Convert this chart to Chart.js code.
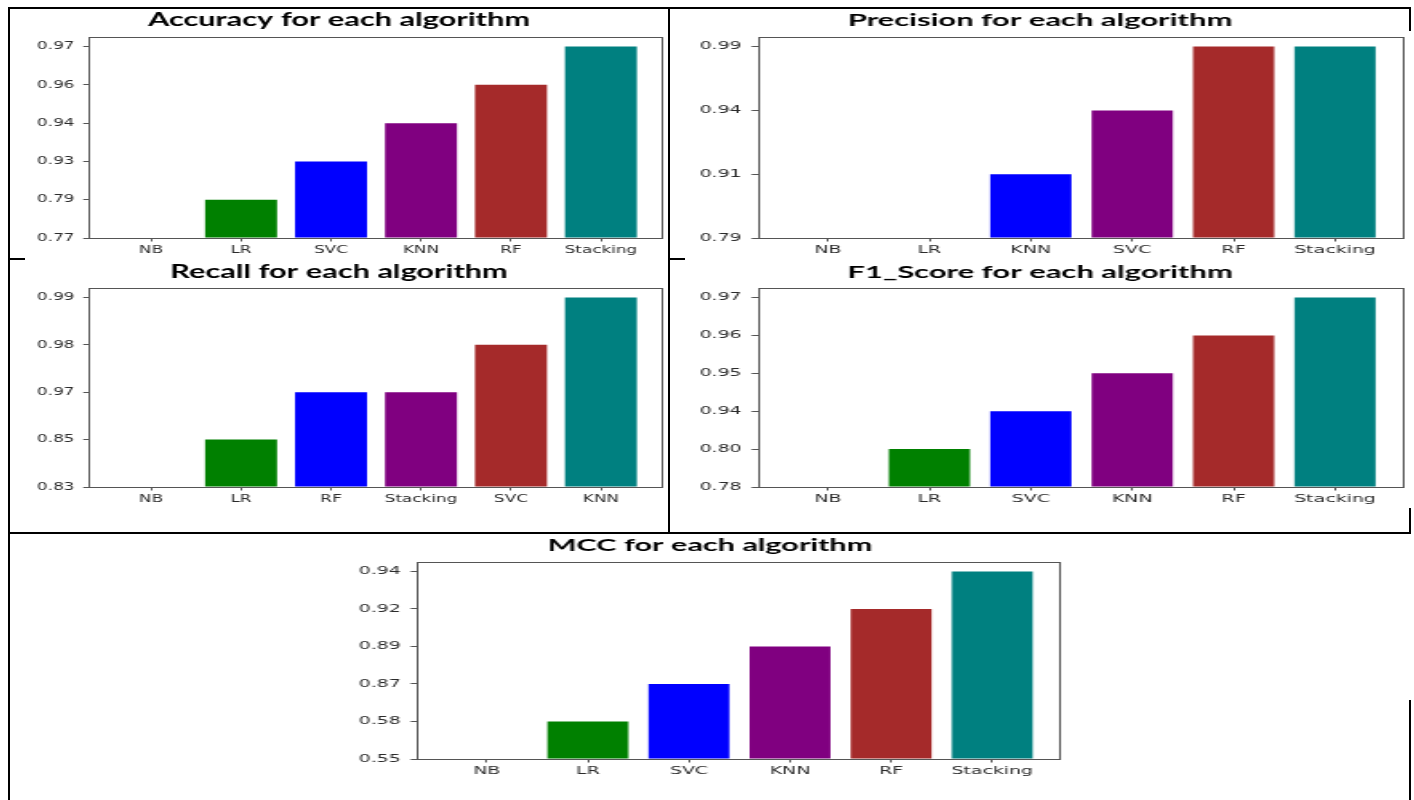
<!DOCTYPE html>
<html>
<head>
<meta charset="utf-8">
<title>Metrics for each algorithm</title>
<script src="https://cdn.jsdelivr.net/npm/chart.js@4.4.1/dist/chart.umd.min.js"></script>
<style>
  html, body { margin: 0; padding: 0; background: #fff; }
  body { position: relative; width: 1414px; height: 800px; overflow: hidden; }
  .rule { position: absolute; background: #000; }
  .cell { position: absolute; transform-origin: 0 0; }
  .cell canvas { display: block; }
</style>
</head>
<body>
<!-- table frame around the five panels -->
<div class="rule" style="left:8px;top:7px;width:1403px;height:2px"></div>
<div class="rule" style="left:8px;top:7px;width:2px;height:793px"></div>
<div class="rule" style="left:668px;top:7px;width:2px;height:527px"></div>
<div class="rule" style="left:8px;top:532px;width:1403px;height:2px"></div>
<div class="rule" style="left:8px;top:258px;width:17px;height:2px"></div>
<div class="rule" style="left:668px;top:258px;width:17px;height:2px"></div>
<div class="rule" style="left:1409px;top:7px;width:2px;height:24px"></div>
<div class="rule" style="left:1409px;top:508px;width:2px;height:26px"></div>
<div class="rule" style="left:1409px;top:700px;width:2px;height:100px"></div>

<div class="cell" id="cellAccuracy"><canvas id="accuracyChart"></canvas></div>
<div class="cell" id="cellPrecision"><canvas id="precisionChart"></canvas></div>
<div class="cell" id="cellRecall"><canvas id="recallChart"></canvas></div>
<div class="cell" id="cellF1"><canvas id="f1Chart"></canvas></div>
<div class="cell" id="cellMcc"><canvas id="mccChart"></canvas></div>

<script>
// ---- data ----
const accuracyAlgorithms = ['NB', 'LR', 'SVC', 'KNN', 'RF', 'Stacking'];
const accuracyValues     = [0.77, 0.79, 0.93, 0.94, 0.96, 0.97];
const accuracyTicks      = [0.77, 0.79, 0.93, 0.94, 0.96, 0.97];

const precisionAlgorithms = ['NB', 'LR', 'KNN', 'SVC', 'RF', 'Stacking'];
const precisionValues     = [0.79, 0.79, 0.91, 0.94, 0.99, 0.99];
const precisionTicks      = [0.79, 0.91, 0.94, 0.99];

const recallAlgorithms = ['NB', 'LR', 'RF', 'Stacking', 'SVC', 'KNN'];
const recallValues     = [0.83, 0.85, 0.97, 0.97, 0.98, 0.99];
const recallTicks      = [0.83, 0.85, 0.97, 0.98, 0.99];

const f1Algorithms = ['NB', 'LR', 'SVC', 'KNN', 'RF', 'Stacking'];
const f1Values     = [0.78, 0.80, 0.94, 0.95, 0.96, 0.97];
const f1Ticks      = [0.78, 0.80, 0.94, 0.95, 0.96, 0.97];

const mccAlgorithms = ['NB', 'LR', 'SVC', 'KNN', 'RF', 'Stacking'];
const mccValues     = [0.55, 0.58, 0.87, 0.89, 0.92, 0.94];
const mccTicks      = [0.55, 0.58, 0.87, 0.89, 0.92, 0.94];

const barColors = ['red', 'green', 'blue', 'purple', 'brown', 'teal'];

// ---- layout of each panel on the page (px) ----
const layouts = {
  accuracy:  { left: 10,  top: 9,   width: 658,  height: 249, plotLeft: 89,  plotRight: 663,  plotTop: 37,  plotBottom: 238, titleY: 20, stretch: 1.6, titleSize: 19.2 },
  precision: { left: 670, top: 9,   width: 740,  height: 249, plotLeft: 758, plotRight: 1405, plotTop: 37,  plotBottom: 238, titleY: 20, stretch: 1.8, titleSize: 17.2 },
  recall:    { left: 10,  top: 260, width: 658,  height: 273, plotLeft: 89,  plotRight: 663,  plotTop: 288, plotBottom: 487, titleY: 272, stretch: 1.6, titleSize: 19.2 },
  f1:        { left: 670, top: 260, width: 740,  height: 273, plotLeft: 758, plotRight: 1405, plotTop: 288, plotBottom: 487, titleY: 272, stretch: 1.8, titleSize: 17.2 },
  mcc:       { left: 10,  top: 535, width: 1400, height: 265, plotLeft: 417, plotRight: 1062, plotTop: 562, plotBottom: 759, titleY: 545.5, stretch: 1.8, titleSize: 17 }
};

const INK = '#2b2b2b';
const SPINE = '#555';
const tickFont = { family: "'DejaVu Sans', sans-serif", size: 10.5 };

// closed frame around the plotting area, drawn above the bars
const spinesPlugin = {
  id: 'spines',
  afterDatasetsDraw(chart) {
    const { ctx, chartArea: a } = chart;
    ctx.save();
    ctx.strokeStyle = SPINE;
    ctx.lineWidth = 1;
    ctx.strokeRect(Math.round(a.left) + 0.5, Math.round(a.top) + 0.5,
                   Math.round(a.right - a.left) - 1, Math.round(a.bottom - a.top));
    ctx.restore();
  }
};

function barPanel(cellId, canvasId, geo, titleText, algorithms, values, ticks) {
  const W = Math.round(geo.width / geo.stretch);
  const sx = geo.width / W;
  const cell = document.getElementById(cellId);
  cell.style.left = geo.left + 'px';
  cell.style.top = geo.top + 'px';
  cell.style.width = W + 'px';
  cell.style.height = geo.height + 'px';
  cell.style.transform = 'scaleX(' + sx + ')';

  const yAxisWidth = (geo.plotLeft - geo.left) / sx;
  const rightGap = (geo.left + geo.width - geo.plotRight) / sx;
  const lineH = geo.titleSize * 1.2;
  const titleTop = geo.titleY - geo.top - lineH / 2;
  const titleBottom = geo.plotTop - geo.top - lineH - titleTop;
  const xAxisHeight = 20;
  const bottomGap = geo.top + geo.height - geo.plotBottom - xAxisHeight;

  // each bar stands at the rank of its value among the axis tick labels
  const points = values.map((v, i) => ({ x: i, y: ticks.indexOf(v) }));
  const n = algorithms.length;
  const xMargin = 0.05 * (n - 1 + 0.8);

  return new Chart(document.getElementById(canvasId), {
    type: 'bar',
    data: {
      datasets: [{
        data: points,
        backgroundColor: barColors,
        borderWidth: 0,
        categoryPercentage: 1.0,
        barPercentage: 0.8
      }]
    },
    options: {
      responsive: true,
      maintainAspectRatio: false,
      animation: false,
      devicePixelRatio: 1,
      layout: { padding: { left: 0, right: 0, top: 0, bottom: bottomGap } },
      plugins: {
        legend: { display: false },
        tooltip: { enabled: false },
        title: {
          display: true,
          text: titleText,
          color: '#000',
          font: { family: "Lato, 'Open Sans', sans-serif", weight: 'bold', size: geo.titleSize, lineHeight: 1.2 },
          padding: { top: titleTop, bottom: titleBottom }
        }
      },
      scales: {
        x: {
          type: 'linear',
          position: 'bottom',
          offset: false,
          min: -0.4 - xMargin,
          max: n - 1 + 0.4 + xMargin,
          afterBuildTicks(axis) { axis.ticks = algorithms.map((_, i) => ({ value: i })); },
          afterFit(axis) { axis.height = xAxisHeight; },
          ticks: {
            callback: (v) => algorithms[v],
            color: INK,
            font: tickFont,
            padding: 2,
            maxRotation: 0,
            minRotation: 0,
            autoSkip: false
          },
          grid: { display: true, offset: false, drawOnChartArea: false, drawTicks: true, tickLength: 3.5, tickColor: SPINE, tickWidth: 1 },
          border: { display: false }
        },
        y: {
          type: 'linear',
          position: 'left',
          min: 0,
          max: (ticks.length - 1) * 1.05,
          afterBuildTicks(axis) { axis.ticks = ticks.map((_, i) => ({ value: i })); },
          afterFit(axis) { axis.width = yAxisWidth; },
          ticks: {
            callback: (v) => ticks[v].toFixed(2),
            color: INK,
            font: tickFont,
            padding: 5.5
          },
          grid: { display: true, drawOnChartArea: false, drawTicks: true, tickLength: 3.6, tickColor: SPINE, tickWidth: 1 },
          border: { display: false }
        },
        y2: {
          type: 'linear',
          position: 'right',
          display: true,
          afterFit(axis) { axis.width = rightGap; },
          ticks: { display: false },
          grid: { display: false },
          border: { display: false }
        }
      }
    },
    plugins: [spinesPlugin]
  });
}

barPanel('cellAccuracy', 'accuracyChart', layouts.accuracy, 'Accuracy for each algorithm', accuracyAlgorithms, accuracyValues, accuracyTicks);
barPanel('cellPrecision', 'precisionChart', layouts.precision, 'Precision for each algorithm', precisionAlgorithms, precisionValues, precisionTicks);
barPanel('cellRecall', 'recallChart', layouts.recall, 'Recall for each algorithm', recallAlgorithms, recallValues, recallTicks);
barPanel('cellF1', 'f1Chart', layouts.f1, 'F1_Score for each algorithm', f1Algorithms, f1Values, f1Ticks);
barPanel('cellMcc', 'mccChart', layouts.mcc, 'MCC for each algorithm', mccAlgorithms, mccValues, mccTicks);
</script>
</body>
</html>
